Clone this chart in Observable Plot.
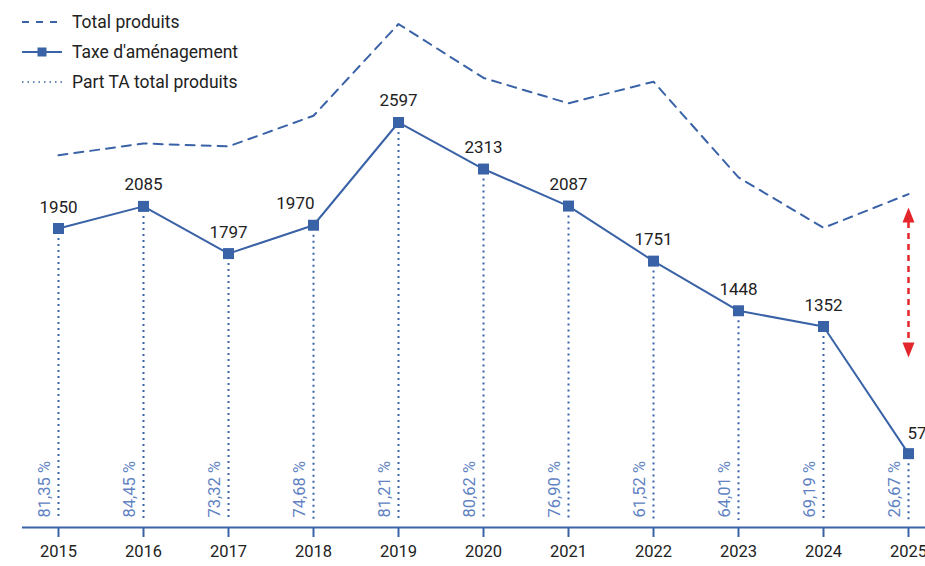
<!DOCTYPE html>
<html>
<head>
<meta charset="utf-8">
<script src="https://cdn.jsdelivr.net/npm/d3@7"></script>
<script src="https://cdn.jsdelivr.net/npm/@observablehq/plot@0.6"></script>
<style>
  html, body { margin: 0; padding: 0; background: #fff; }
  body { width: 925px; height: 566px; overflow: hidden; position: relative; font-family: Roboto, "Noto Sans", sans-serif; }
  #legend { position: absolute; left: 22px; top: 7px; font-size: 17.5px; color: #222; }
  .item { display: flex; align-items: center; height: 30px; }
  .item svg { width: 40px; height: 16px; margin-right: 10px; }
</style>
</head>
<body>
<div id="chart"></div>
<div id="legend"></div>
<script>
// ---- Data ----
const years = [2015, 2016, 2017, 2018, 2019, 2020, 2021, 2022, 2023, 2024, 2025];
const taxeAmenagement = [1950, 2085, 1797, 1970, 2597, 2313, 2087, 1751, 1448, 1352, 576];
const totalProduits = [2397, 2469, 2451, 2638, 3198, 2869, 2714, 2846, 2262, 1954, 2160];
const partTA = [81.35, 84.45, 73.32, 74.68, 81.21, 80.62, 76.90, 61.52, 64.01, 69.19, 26.67];
const seriesNames = ["Total produits", "Taxe d'aménagement", "Part TA total produits"];
// annotation: red double arrow on the last year
const arrowYear = 2025;
const arrowTop = 2078;
const arrowBottom = 1163;

const blue = "#3a62a7";
const pctBlue = "#5f82c2";
const red = "#e3262b";

const rows = years.map((year, i) => ({
  year, taxe: taxeAmenagement[i], total: totalProduits[i], part: partTA[i], i
}));
const fmtPct = v => v.toFixed(2).replace(".", ",") + " %";

const yMin = 125.4, yMax = 3341.5;

const triUp = { draw(ctx) { ctx.moveTo(0, 0); ctx.lineTo(-6, 15); ctx.lineTo(6, 15); ctx.closePath(); } };

const last = rows.length - 1;
const chart = Plot.plot({
  width: 925,
  height: 566,
  marginLeft: 58,
  marginRight: 17,
  marginTop: 0,
  marginBottom: 39,
  style: { fontFamily: "Roboto, 'Noto Sans', sans-serif", fontSize: "16px", background: "#fff", overflow: "visible" },
  x: { domain: [2015, 2025], ticks: years, tickFormat: d => String(d) },
  y: { domain: [yMin, yMax], axis: null },
  marks: [
    // dotted drop lines
    Plot.ruleX(rows, { x: "year", y1: "taxe", y2: yMin, stroke: blue, strokeWidth: 2, strokeDasharray: "2,4", insetTop: 10, insetBottom: 7 }),
    // percent labels
    Plot.text(rows, { x: "year", y: yMin, text: d => fmtPct(d.part), rotate: -90, textAnchor: "start", lineAnchor: "middle", dx: -14, dy: -10, fill: pctBlue, fontSize: 16.5 }),
    // total produits
    Plot.line(rows, { x: "year", y: "total", stroke: blue, strokeWidth: 2, strokeDasharray: "9,7" }),
    // taxe line
    Plot.line(rows, { x: "year", y: "taxe", stroke: blue, strokeWidth: 2 }),
    Plot.dot(rows, { x: "year", y: "taxe", symbol: "square", r: 6.2, fill: blue, stroke: "none" }),
    // value labels
    Plot.text(rows.filter(d => d.i !== 3 && d.i !== last), { x: "year", y: "taxe", text: d => String(d.taxe), lineAnchor: "bottom", dy: -16, fill: "#222", fontSize: 17 }),
    Plot.text(rows.filter(d => d.i === 3), { x: "year", y: "taxe", text: d => String(d.taxe), lineAnchor: "bottom", textAnchor: "end", dx: 1, dy: -16, fill: "#222", fontSize: 17 }),
    Plot.text(rows.filter(d => d.i === last), { x: "year", y: "taxe", text: d => String(d.taxe), lineAnchor: "bottom", textAnchor: "start", dx: -1, dy: -15, fill: "#222", fontSize: 17 }),
    // x axis line + ticks
    Plot.ruleY([yMin], { stroke: blue, strokeWidth: 2, insetLeft: -36, insetRight: -30 }),
    Plot.axisX({ ticks: years, tickFormat: d => String(d), tickSize: 10, tickPadding: 8, stroke: blue, strokeWidth: 2, fill: "#222", fontSize: 16.5, label: null }),
    // red double arrow
    Plot.ruleX([arrowYear], { x: d => d, y1: arrowTop, y2: arrowBottom, stroke: red, strokeWidth: 2.5, strokeDasharray: "6,5", insetTop: 15, insetBottom: 15 }),
    Plot.dot([arrowTop], { x: arrowYear, y: d => d, symbol: triUp, r: 6, fill: red, stroke: "none" }),
    Plot.dot([arrowBottom], { x: arrowYear, y: d => d, symbol: triUp, r: 6, rotate: 180, fill: red, stroke: "none" })
  ]
});
document.getElementById("chart").appendChild(chart);

// ---- Legend ----
const swatches = [
  `<line x1="0" y1="8" x2="40" y2="8" stroke="${blue}" stroke-width="2" stroke-dasharray="7,7"/>`,
  `<line x1="0" y1="8" x2="40" y2="8" stroke="${blue}" stroke-width="2"/><rect x="15.5" y="3.5" width="9" height="9" fill="${blue}"/>`,
  `<line x1="0" y1="8" x2="40" y2="8" stroke="${blue}" stroke-width="1.5" stroke-dasharray="1.5,4"/>`
];
const legend = document.getElementById("legend");
seriesNames.forEach((name, i) => {
  const div = document.createElement("div");
  div.className = "item";
  div.innerHTML = `<svg viewBox="0 0 40 16">${swatches[i]}</svg><span>${name}</span>`;
  legend.appendChild(div);
});
</script>
</body>
</html>
